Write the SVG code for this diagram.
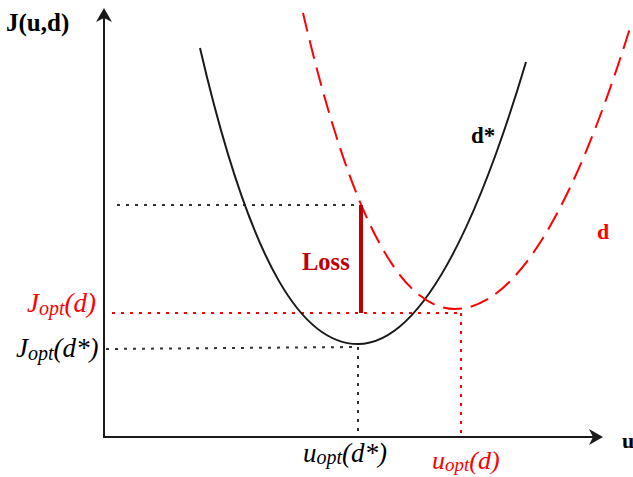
<svg xmlns="http://www.w3.org/2000/svg" width="633" height="477" viewBox="0 0 633 477">
  <defs>
    <marker id="arrow" viewBox="0 0 14 16" refX="4" refY="8" markerWidth="14" markerHeight="16" markerUnits="userSpaceOnUse" orient="auto">
      <path d="M0,0 L14,8 L0,16 L4,8 z" fill="#1a1a1a"/>
    </marker>
    <style>
      .axis { stroke:#1a1a1a; stroke-width:2; fill:none; }
      .curve { stroke:#1a1a1a; stroke-width:2; fill:none; }
      .rcurve { stroke:#ff0000; stroke-width:2; fill:none; stroke-dasharray:19 9; }
      .kdot { stroke:#333333; stroke-width:2; fill:none; stroke-dasharray:3 6; }
      .rdot { stroke:#ff0000; stroke-width:2; fill:none; stroke-dasharray:3 6; }
      .bold { font-family:"Liberation Serif", serif; font-weight:bold; }
      .ital { font-family:"Liberation Serif", serif; font-style:italic; }
      .red { fill:#ff0000; }
      .blk { fill:#000000; }
    </style>
  </defs>

  <g id="axes">
    <line class="axis" x1="104" y1="437" x2="104" y2="18" marker-end="url(#arrow)"/>
    <line class="axis" x1="103" y1="437" x2="593" y2="437" marker-end="url(#arrow)"/>
    <text class="bold blk" x="6" y="31" font-size="25">J(u,d)</text>
    <text class="bold blk" x="622" y="448" font-size="22">u</text>
  </g>

  <g id="connectors">
    <line class="kdot" x1="117" y1="205" x2="358" y2="205"/>
    <line class="rdot" x1="112" y1="313" x2="461" y2="313"/>
    <line class="kdot" x1="106" y1="349" x2="358" y2="347"/>
    <line class="kdot" x1="358" y1="347" x2="358" y2="436"/>
    <line class="rdot" x1="461" y1="313" x2="461" y2="436"/>
  </g>

  <g id="curve-dstar">
    <path class="curve" d="M200,48 C252.7,275 305.3,344 358,344 Q442,344 526,62"/>
    <text class="bold blk" x="471" y="143" font-size="23">d*</text>
  </g>

  <g id="curve-d">
    <path class="rcurve" d="M303,13 C353.7,230 404.3,309 455,309 Q542.5,309 630,28"/>
    <text class="bold red" x="597" y="239" font-size="22">d</text>
  </g>

  <g id="loss">
    <line x1="361" y1="205" x2="361" y2="313" stroke="#c00000" stroke-width="4"/>
    <text class="bold" x="302" y="270" font-size="24.5" fill="#c00000">Loss</text>
  </g>

  <g id="label-jopt-d">
    <text class="ital red" x="27" y="312" font-size="27">J<tspan font-size="20" dy="3">opt</tspan><tspan dy="-3">(d)</tspan></text>
  </g>
  <g id="label-jopt-dstar">
    <text class="ital blk" x="16" y="357" font-size="27">J<tspan font-size="20" dy="3">opt</tspan><tspan dy="-3">(d*)</tspan></text>
  </g>
  <g id="label-uopt-dstar">
    <text class="ital blk" x="303" y="462" font-size="27">u<tspan font-size="20" dy="2">opt</tspan><tspan dy="-2">(d*)</tspan></text>
  </g>
  <g id="label-uopt-d">
    <text class="ital red" x="432" y="469" font-size="26">u<tspan font-size="19" dy="2">opt</tspan><tspan dy="-2">(d)</tspan></text>
  </g>
</svg>
